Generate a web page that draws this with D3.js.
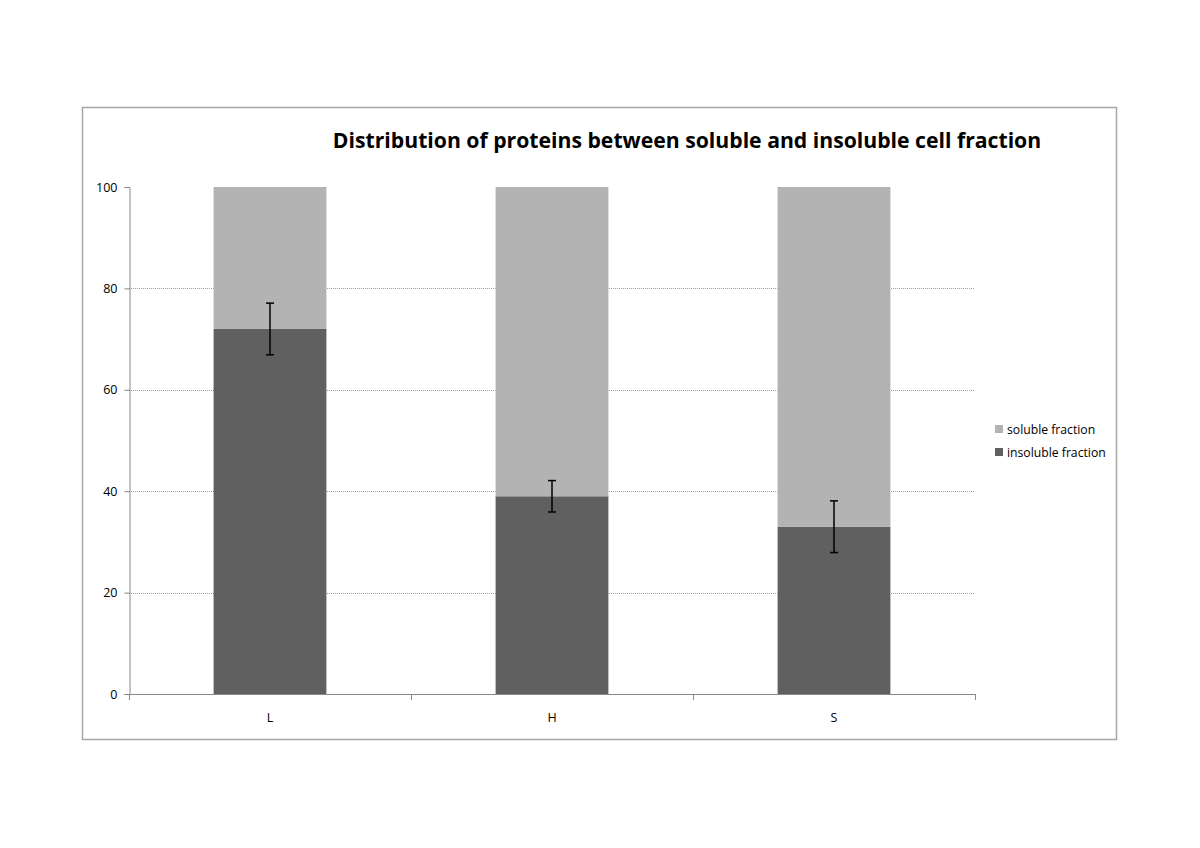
<!DOCTYPE html>
<html>
<head>
<meta charset="utf-8">
<script src="https://cdn.jsdelivr.net/npm/d3@7"></script>
<style>
  body { margin: 0; background: #fff; }
  text { font-family: 'Open Sans', sans-serif; }
</style>
</head>
<body>
<div id="chart"></div>
<script>
// Protein distribution between soluble / insoluble fraction (stacked to 100%)
const categories = ["L", "H", "S"];
const insoluble = [72, 39, 33];
const insolubleErr = [5.1, 3.1, 5.1];
const soluble = [28, 61, 67];
const yTicks = [0, 20, 40, 60, 80, 100];
const seriesNames = ["soluble fraction", "insoluble fraction"];

const width = 1200, height = 848;
const colors = { soluble: "#b3b3b3", insoluble: "#606060" };

const svg = d3.select("#chart").append("svg")
    .attr("width", width)
    .attr("height", height);

// outer chart frame
svg.append("rect")
    .attr("x", 82.5).attr("y", 107.5)
    .attr("width", 1034).attr("height", 632)
    .attr("fill", "none")
    .attr("stroke", "#a6a6a6")
    .attr("stroke-width", 1.5);

svg.append("text")
    .attr("x", 687).attr("y", 147.5)
    .attr("text-anchor", "middle")
    .style("font-size", "21.2px")
    .style("font-weight", "700")
    .text("Distribution of proteins between soluble and insoluble cell fraction");

const x = d3.scaleBand()
    .domain(categories)
    .range([129, 975])
    .paddingInner(0.6)
    .paddingOuter(0.3);

const y = d3.scaleLinear()
    .domain([0, 100])
    .range([694, 187]);

// gridlines
svg.append("g")
    .selectAll("line")
    .data(yTicks.filter(d => d > 0 && d < 100))
    .enter().append("line")
    .attr("x1", 129).attr("x2", 975)
    .attr("y1", d => Math.round(y(d)) + 0.5)
    .attr("y2", d => Math.round(y(d)) + 0.5)
    .attr("stroke", "#a0a0a0")
    .attr("stroke-dasharray", "1,1");

const rows = categories.map((c, i) => ({ c, ins: insoluble[i], sol: soluble[i], err: insolubleErr[i] }));

// bars
const bars = svg.append("g");
bars.selectAll(".ins")
    .data(rows).enter().append("rect")
    .attr("x", d => x(d.c))
    .attr("width", x.bandwidth())
    .attr("y", d => y(d.ins))
    .attr("height", d => y(0) - y(d.ins))
    .attr("fill", colors.insoluble);
bars.selectAll(".sol")
    .data(rows).enter().append("rect")
    .attr("x", d => x(d.c))
    .attr("width", x.bandwidth())
    .attr("y", d => y(d.ins + d.sol))
    .attr("height", d => y(d.ins) - y(d.ins + d.sol))
    .attr("fill", colors.soluble);

// error bars
const eb = svg.append("g").attr("stroke", "#000").attr("stroke-width", 1.5);
rows.forEach(d => {
    const cx = x(d.c) + x.bandwidth() / 2;
    eb.append("line").attr("x1", cx).attr("x2", cx)
        .attr("y1", y(d.ins + d.err)).attr("y2", y(d.ins - d.err));
    [d.ins + d.err, d.ins - d.err].forEach(v => {
        eb.append("line").attr("x1", cx - 4).attr("x2", cx + 4)
            .attr("y1", y(v)).attr("y2", y(v));
    });
});

// y axis
const yAxis = svg.append("g")
    .attr("transform", "translate(129.5,0)")
    .call(d3.axisLeft(y).tickValues(yTicks).tickSize(5).tickPadding(7));
yAxis.selectAll("path, line").attr("stroke", "#888");
yAxis.selectAll("text").style("font-size", "12.5px").attr("fill", "#000")
    .style("font-family", "'Open Sans', sans-serif");

// x axis with ticks between categories
const xa = svg.append("g");
xa.append("line").attr("x1", 129).attr("x2", 975)
    .attr("y1", 694.5).attr("y2", 694.5).attr("stroke", "#888");
const bounds = d3.range(categories.length + 1).map(i => 129 + i * (975 - 129) / categories.length);
xa.selectAll(".tk").data(bounds).enter().append("line")
    .attr("x1", d => Math.round(d) + 0.5).attr("x2", d => Math.round(d) + 0.5)
    .attr("y1", 694).attr("y2", 700).attr("stroke", "#888");
xa.selectAll("text").data(categories).enter().append("text")
    .attr("x", d => x(d) + x.bandwidth() / 2)
    .attr("y", 722)
    .attr("text-anchor", "middle")
    .style("font-size", "12.5px")
    .text(d => d);

// legend
const legend = svg.append("g").attr("transform", "translate(995,429)");
const legendColors = [colors.soluble, colors.insoluble];
seriesNames.forEach((name, i) => {
    const g = legend.append("g").attr("transform", `translate(0,${i * 23})`);
    g.append("rect").attr("x", 0).attr("y", -4).attr("width", 8).attr("height", 8)
        .attr("fill", legendColors[i]);
    g.append("text").attr("x", 12).attr("y", 4.5)
        .style("font-size", "12.2px")
        .text(name);
});
</script>
</body>
</html>
